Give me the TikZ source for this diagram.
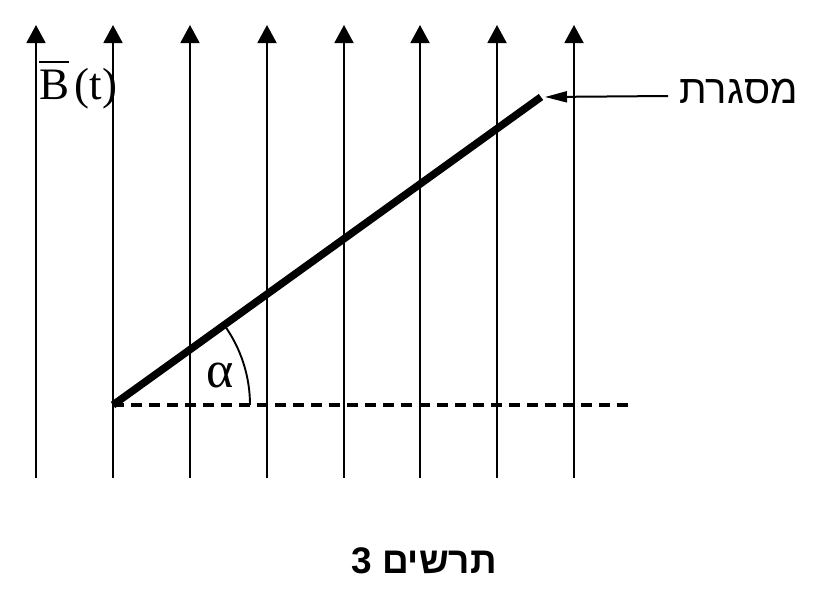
\documentclass[tikz,border=0pt]{standalone}
\usepackage{fontspec}
\setmainfont{Liberation Serif}
\newfontfamily\hebfont[Script=Hebrew]{Liberation Sans}
\TeXXeTstate=1
\usetikzlibrary{arrows.meta}
\begin{document}
\begin{tikzpicture}[x=1pt,y=-1pt,
  field/.style={line width=1.9pt,-{Triangle[length=18pt,width=19pt]}},
  frame/.style={line width=7.5pt},
  guide/.style={line width=3.2pt,dash pattern=on 11pt off 7pt},
  pointer/.style={line width=2pt,-{Triangle[length=22pt,width=11pt]}},
  lbl/.style={inner sep=0pt}]
\useasboundingbox (0,0) rectangle (822,600);
\foreach \i/\x in {1/36,2/113,3/190,4/267,5/344,6/420,7/497,8/574}{
  \coordinate (b\i) at (\x,478);
  \coordinate (t\i) at (\x,25);
  \draw[field] (b\i) -- (t\i);
}
\coordinate (A) at (113,405);
\coordinate (C) at (541,97);
\coordinate (D) at (635,405);
\draw[guide] (A) -- (D);
\draw[frame] (A) -- (C);
\draw[line width=1.9pt] (A) ++(137,0) arc (0:-35.7:137);
\node[lbl,anchor=base west,font=\fontsize{52}{52}\selectfont] (alpha) at (206,387) {α};
\node[lbl,anchor=base west,font=\fontsize{45}{45}\selectfont] (B) at (39,99)
  {\makebox[0pt][l]{\rule[0.8em]{0.66em}{0.045em}}B\kern0.12em(t)};
\node[lbl,anchor=base east,font=\hebfont\fontsize{40}{40}\selectfont] (misgeret) at (798,103) {\beginR מסגרת\endR};
\coordinate (P) at (668,96);
\draw[pointer] (P) -- ([xshift=4pt]C);
\node[lbl,anchor=base,font=\hebfont\bfseries\fontsize{37}{37}\selectfont] (cap) at (424,573) {\beginR תרשים 3\endR};
\end{tikzpicture}
\end{document}
